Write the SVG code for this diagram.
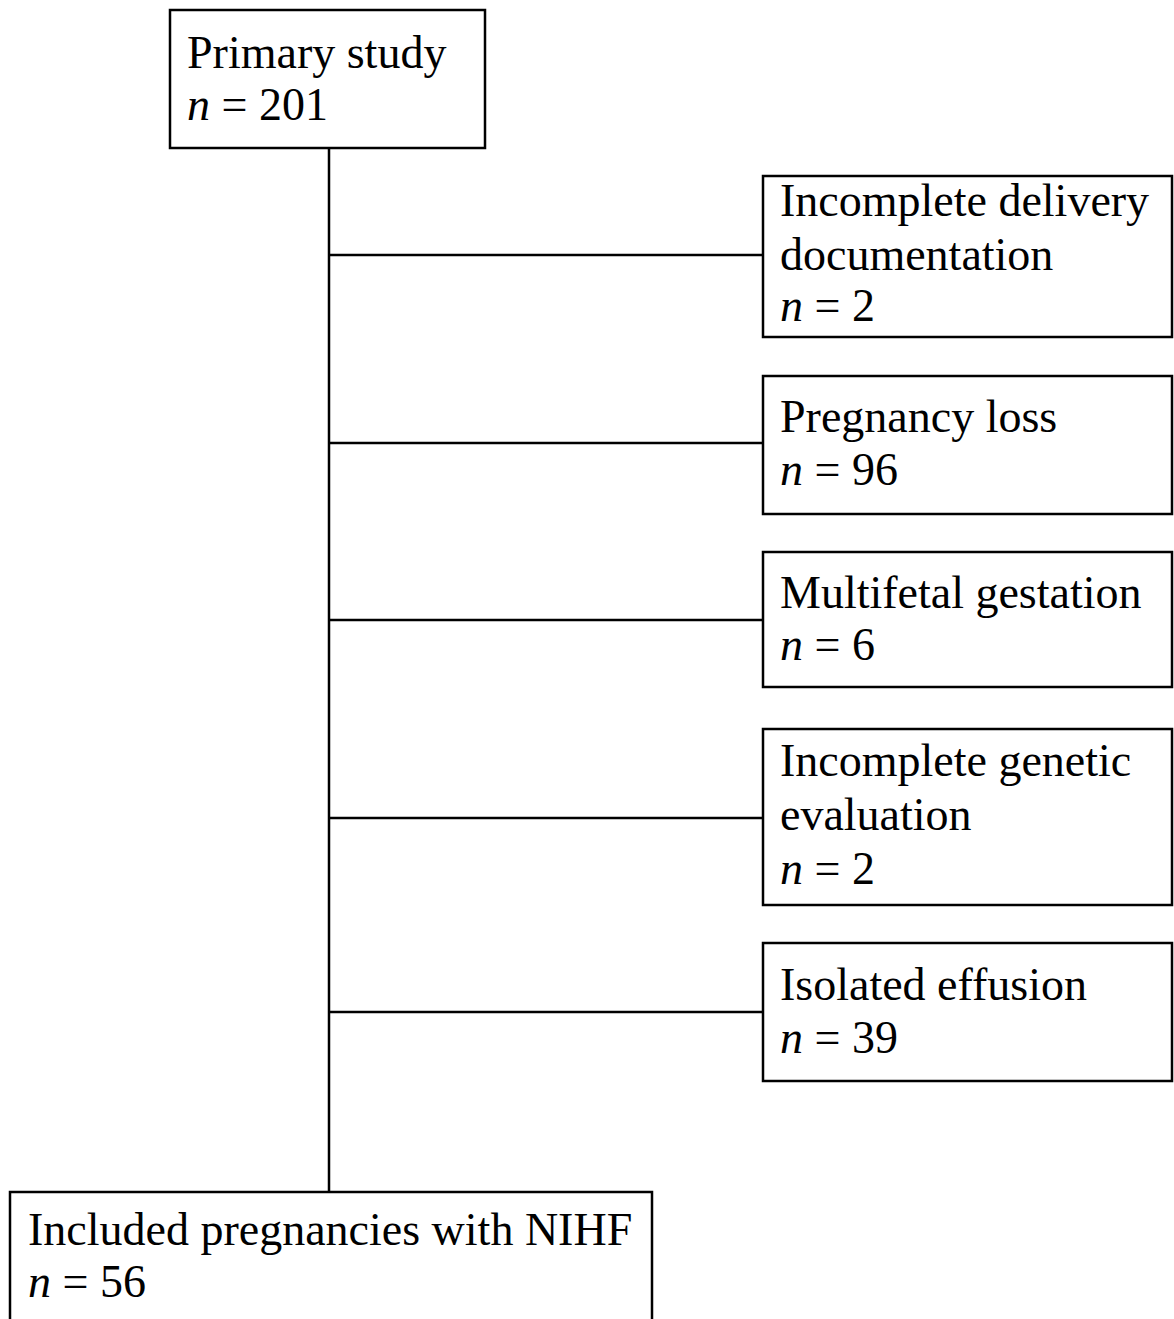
<svg xmlns="http://www.w3.org/2000/svg" width="1174" height="1319" viewBox="0 0 1174 1319">
<style>
.box{fill:#fff;stroke:#000;stroke-width:2.5}
.ln{stroke:#000;stroke-width:2.5;fill:none}
text{font-family:"Liberation Serif","Times New Roman",serif;font-size:46px;fill:#000}
.i{font-style:italic}
</style>
<rect width="1174" height="1319" fill="#fff"/>
<g id="connectors">
<line class="ln" x1="329" y1="148" x2="329" y2="1192"/>
<line class="ln" x1="329" y1="255" x2="763" y2="255"/>
<line class="ln" x1="329" y1="443" x2="763" y2="443"/>
<line class="ln" x1="329" y1="620" x2="763" y2="620"/>
<line class="ln" x1="329" y1="818" x2="763" y2="818"/>
<line class="ln" x1="329" y1="1012" x2="763" y2="1012"/>
</g>
<g id="primary">
<rect class="box" x="170" y="10" width="315" height="138"/>
<text x="187" y="68">Primary study</text>
<text x="187" y="120"><tspan class="i">n</tspan> = 201</text>
</g>
<g id="incomplete-delivery">
<rect class="box" x="763" y="176" width="409" height="161"/>
<text x="780" y="216">Incomplete delivery</text>
<text x="780" y="270">documentation</text>
<text x="780" y="321"><tspan class="i">n</tspan> = 2</text>
</g>
<g id="pregnancy-loss">
<rect class="box" x="763" y="376" width="409" height="138"/>
<text x="780" y="432">Pregnancy loss</text>
<text x="780" y="485"><tspan class="i">n</tspan> = 96</text>
</g>
<g id="multifetal">
<rect class="box" x="763" y="552" width="409" height="135"/>
<text x="780" y="608">Multifetal gestation</text>
<text x="780" y="660"><tspan class="i">n</tspan> = 6</text>
</g>
<g id="incomplete-genetic">
<rect class="box" x="763" y="729" width="409" height="176"/>
<text x="780" y="776">Incomplete genetic</text>
<text x="780" y="830">evaluation</text>
<text x="780" y="884"><tspan class="i">n</tspan> = 2</text>
</g>
<g id="isolated-effusion">
<rect class="box" x="763" y="943" width="409" height="138"/>
<text x="780" y="1000">Isolated effusion</text>
<text x="780" y="1053"><tspan class="i">n</tspan> = 39</text>
</g>
<g id="included">
<rect class="box" x="10" y="1192" width="642" height="160"/>
<text x="28" y="1245">Included pregnancies with NIHF</text>
<text x="28" y="1297"><tspan class="i">n</tspan> = 56</text>
</g>
</svg>
